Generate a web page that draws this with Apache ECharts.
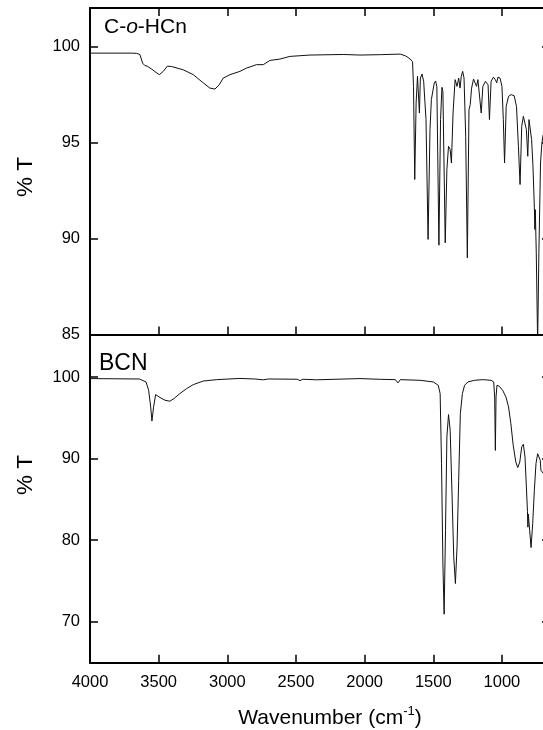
<!DOCTYPE html>
<html><head><meta charset="utf-8">
<script src="https://cdn.jsdelivr.net/npm/echarts@6/dist/echarts.min.js"></script>
<style>html,body{margin:0;padding:0;background:#fff}#c{width:543px;height:730px}</style>
</head><body><div id="c"></div><script>
// ---- data ----
const xTicks = [4000, 3500, 3000, 2500, 2000, 1500, 1000];
const topYTicks = [85, 90, 95, 100];
const bottomYTicks = [70, 80, 90, 100];
const topLabel = 'C-o-HCn';
const bottomLabel = 'BCN';

const topWavenumber = [4000,3700,3660,3636,3617,3600,3583,3551,3520,3495,3466,3437,3405,3320,3248,3175,3127,3090,3059,3030,2981,2908,2860,2787,2738,2690,2617,2544,2399,2156,2034,1885,1740,1700,1668,1651,1644,1635,1625,1615,1601,1594,1582,1570,1553,1538,1524,1514,1505,1493,1483,1474,1459,1447,1437,1430,1413,1401,1389,1377,1368,1356,1341,1327,1315,1305,1296,1286,1276,1264,1252,1240,1231,1221,1207,1195,1185,1175,1163,1151,1139,1120,1101,1091,1079,1062,1048,1038,1029,1014,1000,990,981,969,952,933,911,894,880,868,856,844,832,822,812,803,796,784,774,764,760,757,750,740,731,719,709,700];
const topT = [99.65,99.65,99.64,99.57,99.13,99.0,98.97,98.82,98.65,98.53,98.7,98.97,98.95,98.78,98.53,98.1,97.83,97.78,98.0,98.35,98.53,98.7,98.87,99.05,99.05,99.27,99.34,99.48,99.55,99.58,99.55,99.57,99.6,99.5,99.34,99.2,97.9,93.07,97.05,98.44,96.53,98.35,98.56,98.18,96.19,89.95,95.67,97.23,97.3,98.09,98.2,97.9,89.65,96.19,97.87,97.66,89.77,93.59,94.8,94.63,93.93,96.53,98.27,97.92,98.35,97.83,98.44,98.7,98.35,95.32,88.99,96.7,96.97,97.83,98.3,98.27,97.92,98.27,98.18,96.53,97.92,98.18,98.0,96.19,98.18,98.4,98.27,98.1,98.4,98.35,97.92,96.19,93.93,96.88,97.4,97.49,97.43,96.88,94.8,92.81,95.84,96.36,96.45,95.67,94.28,96.19,96.1,95.15,93.76,91.6,90.47,91.5,89.25,84.6,89.25,93.93,94.97,95.4];

const bottomWavenumber = [4000,3640,3592,3573,3558,3549,3537,3522,3510,3490,3454,3418,3389,3345,3296,3248,3175,3078,2908,2800,2738,2700,2490,2471,2450,2350,2034,1885,1776,1757,1740,1596,1500,1464,1450,1440,1430,1421,1411,1401,1389,1377,1363,1351,1339,1327,1315,1303,1288,1272,1248,1200,1139,1079,1060,1053,1048,1043,1036,1019,995,971,952,935,918,899,885,870,856,844,832,822,814,811,808,798,788,776,764,752,740,731,721,716,709,700];
const bottomT = [99.8,99.75,99.39,98.37,96.33,94.6,96.3,97.84,97.97,97.48,97.15,97.03,97.35,97.97,98.58,99.06,99.5,99.67,99.82,99.75,99.65,99.75,99.72,99.55,99.72,99.65,99.8,99.71,99.67,99.27,99.67,99.59,99.39,98.98,97.96,89.39,77.1,70.94,81.2,92.65,95.39,93.47,85.3,77.96,74.7,79.2,87.35,95.5,97.96,98.98,99.39,99.59,99.67,99.59,99.39,97.55,91.0,97.55,98.98,98.86,98.37,97.55,96.33,94.29,91.63,89.59,88.9,89.59,91.43,91.76,90.2,86.53,83.5,81.6,83.2,81.2,79.1,82.04,86.12,89.39,90.6,90.82,89.8,88.57,88.37,88.2];

// ---- chart ----
const FONT = "'Liberation Sans', Arial, sans-serif";
const chart = echarts.init(document.getElementById('c'), null, {renderer: 'canvas'});
const axisLine = {show: true, onZero: false, lineStyle: {color: '#000', width: 2}};
const tick = (vals, show) => ({show: show, inside: true, length: 8, customValues: vals, lineStyle: {color: '#000', width: 1.5}});
const lbl = (vals, show, margin) => ({show: show, customValues: vals, color: '#000', fontSize: 16.5, fontFamily: FONT, margin: margin,
  formatter: v => String(v)});

function xAx(grid, pos, ticks, labels) {
  return {type: 'value', gridIndex: grid, position: pos, min: 650, max: 4000, inverse: true,
    axisLine: axisLine, axisTick: tick(xTicks, ticks), axisLabel: lbl(xTicks, labels, 11),
    splitLine: {show: false}};
}
function yAx(grid, pos, min, max, vals, labels) {
  return {type: 'value', gridIndex: grid, position: pos, min: min, max: max,
    axisLine: axisLine, axisTick: tick(vals, true), axisLabel: lbl(vals, labels, 10),
    splitLine: {show: false}};
}

chart.setOption({
  animation: false,
  backgroundColor: '#fff',
  grid: [
    {left: 90, top: 8, width: 460, height: 326.5, outerBoundsMode: 'none', containLabel: false},
    {left: 90, top: 334.5, width: 460, height: 328.2, outerBoundsMode: 'none', containLabel: false}
  ],
  xAxis: [
    xAx(0, 'bottom', true, false),
    xAx(0, 'top', true, false),
    xAx(1, 'bottom', true, true),
    xAx(1, 'top', false, false)
  ],
  yAxis: [
    yAx(0, 'left', 85, 102, topYTicks, true),
    yAx(0, 'right', 85, 102, topYTicks, false),
    yAx(1, 'left', 65, 105.2, bottomYTicks, true),
    yAx(1, 'right', 65, 105.2, bottomYTicks, false)
  ],
  series: [
    {type: 'line', xAxisIndex: 0, yAxisIndex: 0, showSymbol: false, clip: true,
      data: topWavenumber.map((w, i) => [w, topT[i]]),
      lineStyle: {color: '#111', width: 1}},
    {type: 'line', xAxisIndex: 2, yAxisIndex: 2, showSymbol: false, clip: true,
      data: bottomWavenumber.map((w, i) => [w, bottomT[i]]),
      lineStyle: {color: '#111', width: 1}}
  ],
  graphic: [
    {type: 'text', x: 26, y: 177, rotation: Math.PI / 2,
      style: {text: '% T', fill: '#000', font: '22.5px ' + FONT, align: 'center', verticalAlign: 'middle'}},
    {type: 'text', x: 26, y: 475, rotation: Math.PI / 2,
      style: {text: '% T', fill: '#000', font: '22.5px ' + FONT, align: 'center', verticalAlign: 'middle'}},
    {type: 'text', x: 104, y: 27,
      style: {text: '{n|C-}{i|o}{n|-HCn}', fill: '#000', align: 'left', verticalAlign: 'middle',
        rich: {n: {fontSize: 21, fontFamily: FONT}, i: {fontSize: 21, fontFamily: FONT, fontStyle: 'italic'}}}},
    {type: 'text', x: 99, y: 364,
      style: {text: bottomLabel, fill: '#000', font: '23px ' + FONT, align: 'left', verticalAlign: 'middle'}},
    {type: 'text', x: 330, y: 718,
      style: {text: '{n|Wavenumber (cm}{s|-1}{n|)}', fill: '#000', align: 'center', verticalAlign: 'middle',
        rich: {n: {fontSize: 21, fontFamily: FONT}, s: {fontSize: 13, fontFamily: FONT, padding: [0, 0, 13, 0]}}}}
  ]
});
</script></body></html>
